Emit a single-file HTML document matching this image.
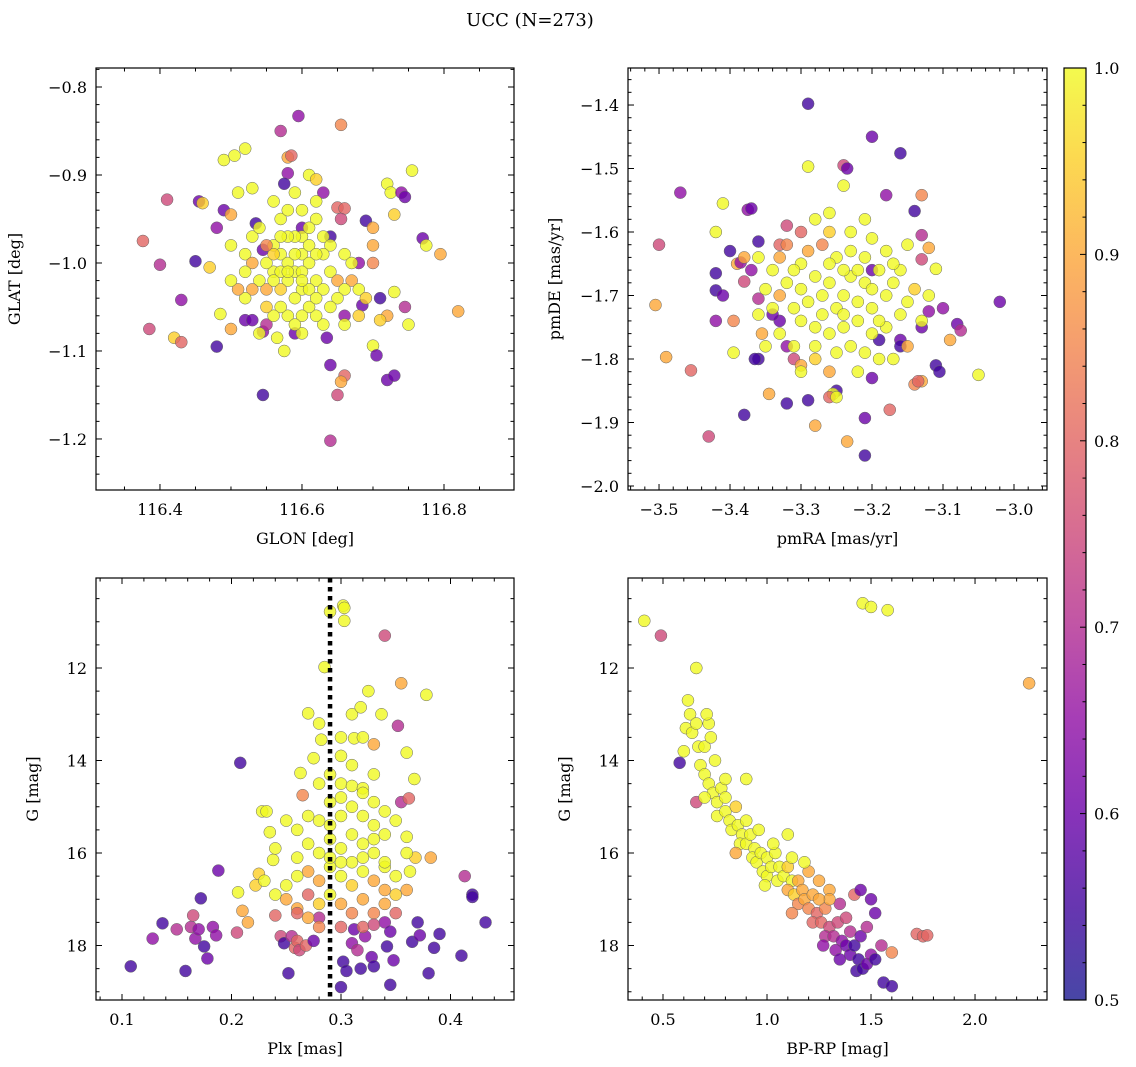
<!DOCTYPE html>
<html><head><meta charset="utf-8"><style>
html,body{margin:0;padding:0;background:#fff}
svg{display:block;font-family:"DejaVu Serif","Liberation Serif",serif}
</style></head><body>
<svg id="fig" width="1136" height="1067" viewBox="0 0 1136 1067" xmlns="http://www.w3.org/2000/svg">
<text x="530" y="26" font-size="18" text-anchor="middle">UCC (N=273)</text>
</svg>
<script>
const panel1Stars=[[116.376,-0.975,0.8],[116.41,-0.928,0.75],[116.40,-1.002,0.7],[116.385,-1.075,0.75],[116.43,-1.042,0.65],[116.42,-1.085,0.95],[116.43,-1.09,0.8],[116.45,-0.998,0.55],[116.455,-0.93,0.6],[116.46,-0.932,0.95],[116.47,-1.005,0.95],[116.48,-0.96,0.65],[116.49,-0.883,1],[116.505,-0.878,1],[116.52,-0.87,1],[116.51,-0.92,1],[116.53,-0.915,1],[116.49,-0.94,0.6],[116.50,-0.945,0.9],[116.485,-1.058,1],[116.48,-1.095,0.55],[116.50,-1.075,0.9],[116.52,-1.065,0.6],[116.53,-1.065,0.6],[116.535,-0.955,0.55],[116.545,-1.15,0.55],[116.57,-0.85,0.7],[116.58,-0.88,0.9],[116.585,-0.878,0.8],[116.595,-0.833,0.65],[116.58,-0.898,0.65],[116.575,-0.91,0.55],[116.61,-0.9,1],[116.62,-0.905,0.95],[116.63,-0.92,0.65],[116.655,-0.843,0.85],[116.65,-0.937,0.8],[116.66,-0.938,0.8],[116.655,-0.95,0.75],[116.69,-0.952,0.55],[116.70,-0.96,0.9],[116.72,-0.91,1],[116.725,-0.92,1],[116.73,-0.945,0.95],[116.74,-0.92,0.65],[116.745,-0.925,0.6],[116.755,-0.895,1],[116.77,-0.972,0.6],[116.775,-0.98,1],[116.795,-0.99,0.9],[116.82,-1.055,0.9],[116.70,-0.98,0.9],[116.70,-1.0,0.85],[116.71,-1.04,0.55],[116.72,-1.06,0.9],[116.71,-1.065,0.95],[116.70,-1.094,1],[116.705,-1.105,0.6],[116.72,-1.133,0.6],[116.73,-1.128,0.6],[116.75,-1.07,1],[116.745,-1.05,0.7],[116.73,-1.033,1],[116.685,-1.048,0.6],[116.66,-1.06,0.65],[116.66,-1.128,0.8],[116.655,-1.135,0.9],[116.65,-1.15,0.75],[116.64,-1.202,0.7],[116.64,-1.116,0.6],[116.635,-1.085,0.6],[116.59,-1.08,0.6],[116.575,-1.1,1],[116.565,-1.085,1],[116.545,-1.078,0.65],[116.55,-1.07,0.7],[116.63,-1.07,1],[116.68,-1.0,0.65],[116.67,-1.02,0.9],[116.64,-0.97,0.55],[116.60,-0.96,0.6],[116.545,-0.985,0.6],
[116.56,-0.98,1],[116.57,-0.99,1],[116.58,-1.0,1],[116.59,-1.01,1],[116.6,-0.99,1],[116.61,-1.0,1],[116.62,-1.02,1],[116.6,-1.03,1],[116.59,-1.04,1],[116.58,-1.02,1],[116.57,-1.03,0.95],[116.56,-1.01,1],[116.55,-1.0,1],[116.55,-1.03,0.9],[116.54,-1.02,1],[116.53,-1.03,0.9],[116.52,-1.04,1],[116.51,-1.03,0.9],[116.5,-1.02,1],[116.5,-0.98,1],[116.52,-0.99,1],[116.53,-0.97,1],[116.54,-0.96,1],[116.57,-0.95,1],[116.58,-0.94,1],[116.6,-0.94,1],[116.62,-0.95,1],[116.63,-0.97,1],[116.64,-0.98,1],[116.63,-0.99,1],[116.64,-1.01,1],[116.65,-1.02,0.9],[116.66,-1.03,1],[116.65,-1.04,1],[116.64,-1.05,1],[116.62,-1.06,1],[116.61,-1.05,1],[116.6,-1.06,1],[116.58,-1.06,1],[116.57,-1.05,1],[116.56,-1.06,1],[116.55,-1.05,0.95],[116.6,-0.97,1],[116.61,-0.98,1],[116.62,-0.99,1],[116.59,-0.97,1],[116.58,-0.97,1],[116.57,-0.97,1],[116.56,-0.99,0.95],[116.55,-0.98,0.85],[116.53,-1.0,0.9],[116.52,-1.01,1],[116.61,-1.03,1],[116.63,-1.03,1],[116.62,-1.04,1],[116.6,-1.08,1],[116.59,-1.07,1],[116.62,-0.93,1],[116.56,-0.93,1],[116.66,-0.99,1],[116.67,-1.0,1],[116.68,-1.03,1],[116.69,-1.04,0.95],[116.57,-1.01,1],[116.58,-1.01,1],[116.6,-1.01,1],[116.59,-0.99,1],[116.6,-1.02,1],[116.56,-1.02,1],[116.61,-0.96,1],[116.54,-1.08,1],[116.66,-1.07,1],[116.68,-1.06,0.95],[116.59,-0.92,1]];
const panel2Stars=[[-3.29,-1.398,0.55],[-3.2,-1.45,0.6],[-3.16,-1.476,0.55],[-3.47,-1.538,0.65],[-3.5,-1.62,0.75],[-3.505,-1.715,0.9],[-3.49,-1.797,0.9],[-3.455,-1.818,0.8],[-3.43,-1.922,0.75],[-3.41,-1.555,1],[-3.42,-1.6,1],[-3.4,-1.63,0.55],[-3.42,-1.665,0.55],[-3.42,-1.692,0.55],[-3.41,-1.7,0.6],[-3.42,-1.74,0.65],[-3.395,-1.74,0.85],[-3.395,-1.79,1],[-3.39,-1.65,0.9],[-3.385,-1.648,0.65],[-3.375,-1.565,0.65],[-3.37,-1.563,0.6],[-3.36,-1.615,0.55],[-3.37,-1.66,0.65],[-3.38,-1.678,0.75],[-3.38,-1.888,0.55],[-3.36,-1.8,0.55],[-3.365,-1.8,0.55],[-3.36,-1.705,0.7],[-3.355,-1.76,0.9],[-3.35,-1.78,1],[-3.345,-1.855,0.9],[-3.32,-1.87,0.55],[-3.29,-1.865,0.55],[-3.29,-1.497,1],[-3.24,-1.495,0.75],[-3.235,-1.5,0.6],[-3.24,-1.527,1],[-3.18,-1.542,0.65],[-3.13,-1.542,0.85],[-3.14,-1.567,0.55],[-3.13,-1.605,0.7],[-3.13,-1.643,0.75],[-3.12,-1.625,0.9],[-3.11,-1.658,1],[-3.12,-1.725,0.65],[-3.13,-1.75,0.6],[-3.10,-1.72,0.65],[-3.08,-1.745,0.6],[-3.075,-1.755,0.7],[-3.09,-1.77,0.9],[-3.02,-1.71,0.6],[-3.05,-1.825,1],[-3.11,-1.81,0.55],[-3.105,-1.82,0.55],[-3.13,-1.835,0.9],[-3.14,-1.84,0.85],[-3.135,-1.835,0.8],[-3.175,-1.88,0.8],[-3.21,-1.952,0.55],[-3.21,-1.893,0.6],[-3.235,-1.93,0.9],[-3.25,-1.85,0.55],[-3.255,-1.855,1],[-3.26,-1.86,0.8],[-3.28,-1.905,0.9],[-3.20,-1.83,0.6],[-3.19,-1.77,0.55],[-3.16,-1.77,0.6],[-3.16,-1.78,0.55],[-3.2,-1.66,0.6],[-3.26,-1.57,1],[-3.32,-1.59,0.75],[-3.33,-1.62,0.8],[-3.32,-1.78,0.65],[-3.33,-1.74,0.6],[-3.34,-1.73,0.6],[-3.31,-1.8,0.75],[-3.30,-1.81,0.9],
[-3.30,-1.65,1],[-3.28,-1.67,1],[-3.26,-1.68,1],[-3.24,-1.70,1],[-3.22,-1.71,1],[-3.2,-1.72,1],[-3.18,-1.70,1],[-3.17,-1.68,1],[-3.19,-1.66,1],[-3.21,-1.64,1],[-3.23,-1.63,1],[-3.25,-1.64,1],[-3.27,-1.62,0.85],[-3.29,-1.63,0.9],[-3.31,-1.66,1],[-3.32,-1.68,1],[-3.33,-1.70,0.9],[-3.31,-1.72,1],[-3.3,-1.74,1],[-3.28,-1.75,1],[-3.26,-1.76,1],[-3.24,-1.75,1],[-3.22,-1.74,1],[-3.2,-1.76,1],[-3.18,-1.75,1],[-3.16,-1.73,1],[-3.15,-1.71,1],[-3.14,-1.69,0.95],[-3.16,-1.66,1],[-3.18,-1.63,1],[-3.2,-1.61,1],[-3.23,-1.6,1],[-3.26,-1.6,0.95],[-3.28,-1.58,1],[-3.3,-1.6,0.8],[-3.32,-1.62,0.85],[-3.34,-1.66,1],[-3.35,-1.69,1],[-3.34,-1.72,1],[-3.33,-1.76,1],[-3.31,-1.78,1],[-3.28,-1.78,1],[-3.25,-1.79,1],[-3.23,-1.78,1],[-3.21,-1.79,1],[-3.19,-1.8,1],[-3.17,-1.8,1],[-3.15,-1.78,0.9],[-3.27,-1.7,1],[-3.25,-1.72,1],[-3.23,-1.67,1],[-3.21,-1.68,1],[-3.29,-1.71,1],[-3.27,-1.73,1],[-3.19,-1.74,1],[-3.22,-1.66,1],[-3.24,-1.66,1],[-3.26,-1.65,1],[-3.3,-1.69,1],[-3.28,-1.8,0.95],[-3.26,-1.82,0.9],[-3.3,-1.82,1],[-3.22,-1.82,1],[-3.2,-1.69,1],[-3.24,-1.73,1],[-3.17,-1.65,1],[-3.33,-1.64,0.9],[-3.36,-1.73,1],[-3.12,-1.7,1],[-3.13,-1.74,1],[-3.36,-1.64,1],[-3.38,-1.64,0.9],[-3.15,-1.62,1],[-3.21,-1.58,1],[-3.25,-1.86,1]];
const panel3Stars=[[0.108,18.45,0.55],[0.128,17.85,0.65],[0.137,17.52,0.55],[0.158,18.55,0.55],[0.15,17.65,0.7],[0.163,17.6,0.7],[0.165,17.35,0.75],[0.167,17.85,0.65],[0.17,17.65,0.65],[0.172,16.98,0.55],[0.175,18.02,0.55],[0.178,18.28,0.6],[0.183,17.6,0.65],[0.186,17.78,0.65],[0.188,16.38,0.6],[0.205,17.72,0.75],[0.206,16.85,1],[0.208,14.05,0.55],[0.21,17.25,0.9],[0.215,17.5,0.9],[0.222,16.7,0.95],[0.225,16.45,0.95],[0.228,15.1,1],[0.232,15.1,1],[0.235,15.55,1],[0.238,16.15,1],[0.24,17.35,0.8],[0.245,17.8,0.75],[0.248,17.95,0.55],[0.252,18.6,0.55],[0.255,17.8,0.7],[0.258,18.05,0.8],[0.26,17.9,0.8],[0.262,18.1,0.75],[0.265,14.75,0.85],[0.268,18.0,0.8],[0.275,17.9,0.6],[0.27,12.98,1],[0.28,17.4,0.7],[0.285,11.98,1],[0.29,10.78,1],[0.302,10.65,1],[0.303,10.7,1],[0.303,10.98,1],[0.3,18.9,0.55],[0.302,18.35,0.55],[0.305,18.55,0.55],[0.31,17.95,0.65],[0.312,17.65,0.6],[0.315,18.1,0.7],[0.318,18.5,0.55],[0.322,17.8,0.65],[0.328,18.25,0.6],[0.33,18.45,0.55],[0.34,11.3,0.75],[0.34,17.5,0.65],[0.342,18.02,0.55],[0.345,17.7,0.6],[0.345,18.85,0.55],[0.348,18.32,0.6],[0.352,13.25,0.7],[0.355,12.33,0.9],[0.355,14.9,0.7],[0.36,13.83,1],[0.362,14.82,0.8],[0.363,16.4,1],[0.365,17.92,0.55],[0.367,14.4,1],[0.368,16.1,0.95],[0.37,17.5,0.55],[0.372,17.78,0.6],[0.378,12.58,1],[0.38,18.6,0.55],[0.382,16.1,0.9],[0.385,18.05,0.55],[0.39,17.75,0.55],[0.41,18.22,0.55],[0.413,16.5,0.7],[0.42,16.9,0.55],[0.42,16.95,0.55],[0.432,17.5,0.55],[0.31,13.0,1],[0.312,13.52,1],[0.32,13.5,1],[0.33,13.65,0.9],[0.337,13.0,1],[0.325,12.5,1],[0.318,12.85,1],[0.28,13.2,1],[0.282,13.55,1],[0.275,13.95,1],[0.3,14.5,1],[0.31,14.55,1],[0.32,14.6,1],[0.263,14.27,1],[0.33,15.7,1],[0.36,15.65,1],[0.36,16.8,0.9],[0.34,16.3,1],[0.35,16.9,0.95],
[0.26,15.5,1],[0.27,15.8,1],[0.28,16.0,1],[0.29,15.7,1],[0.3,15.9,1],[0.31,15.6,1],[0.32,15.8,1],[0.33,16.0,1],[0.34,16.2,1],[0.33,15.4,1],[0.32,15.2,1],[0.31,15.0,1],[0.3,15.2,1],[0.29,15.4,1],[0.28,15.3,1],[0.27,15.2,1],[0.26,16.1,1],[0.27,16.4,0.9],[0.28,16.6,0.9],[0.29,16.3,1],[0.3,16.5,1],[0.31,16.7,0.95],[0.32,16.4,1],[0.33,16.6,0.9],[0.34,16.8,0.9],[0.35,16.5,1],[0.25,16.7,1],[0.25,17.0,0.9],[0.26,17.2,0.9],[0.27,17.4,0.9],[0.28,17.1,0.95],[0.29,16.9,1],[0.3,17.1,0.9],[0.31,17.3,0.85],[0.32,17.0,0.9],[0.33,17.3,0.85],[0.34,17.1,0.9],[0.31,16.2,1],[0.3,14.8,1],[0.29,14.9,1],[0.32,14.7,1],[0.33,14.9,1],[0.34,15.1,1],[0.35,15.3,1],[0.24,15.9,1],[0.25,15.3,1],[0.36,16.0,1],[0.23,16.6,1],[0.24,16.9,1],[0.28,17.6,0.85],[0.3,17.6,0.8],[0.32,17.6,0.8],[0.27,16.9,0.8],[0.26,16.5,1],[0.3,16.2,1],[0.29,16.1,1],[0.32,16.1,1],[0.34,15.6,1],[0.3,13.5,1],[0.29,14.3,1],[0.31,14.1,1],[0.3,13.9,1],[0.33,14.3,1],[0.28,14.5,1],[0.26,17.3,0.8],[0.33,17.55,0.75],[0.35,17.3,0.8]];
const panel4Stars=[[0.41,10.98,1],[0.49,11.3,0.75],[1.46,10.6,1],[1.5,10.68,1],[1.58,10.75,1],[2.26,12.33,0.9],[0.58,14.05,0.55],[0.66,12.0,1],[1.72,17.75,0.8],[1.75,17.8,0.8],[1.77,17.78,0.8],[1.6,18.15,0.85],[1.56,18.8,0.55],[1.6,18.88,0.55],
[0.62,12.7,1],[0.63,13.0,1],[0.61,13.3,1],[0.64,13.4,1],[0.66,13.2,1],[0.6,13.8,1],[0.67,13.7,1],[0.7,13.7,1],[0.72,13.2,1],[0.73,13.5,1],[0.68,14.1,1],[0.7,14.3,1],[0.72,14.5,1],[0.74,14.7,1],[0.66,14.9,0.75],[0.7,14.8,1],[0.76,14.9,1],[0.78,14.6,1],[0.8,14.8,1],[0.76,15.2,1],[0.8,15.1,1],[0.82,15.3,1],[0.85,15.0,0.95],[0.83,15.5,1],[0.86,15.4,1],[0.88,15.6,1],[0.9,15.3,1],[0.87,15.8,1],[0.9,15.8,1],[0.92,15.6,1],[0.94,15.9,1],[0.96,15.5,1],[0.9,14.4,1],[0.93,16.1,1],[0.95,16.2,1],[0.97,16.0,1],[1.0,16.1,1],[0.98,16.4,1],[1.0,16.5,1],[1.02,16.3,1],[1.04,16.0,1],[1.06,16.3,1],[1.05,16.6,1],[1.08,16.5,1],[1.1,16.3,0.95],[1.12,16.6,1],[1.1,16.8,0.9],[1.13,16.9,0.95],[1.15,16.6,0.9],[1.17,16.8,0.9],[1.15,17.1,0.85],[1.18,17.0,0.9],[1.2,17.2,0.85],[1.22,16.9,0.9],[1.2,16.4,0.9],[1.24,17.3,0.8],[1.22,17.5,0.8],[1.26,17.5,0.8],[1.28,17.2,0.85],[1.3,17.6,0.75],[1.28,17.8,0.7],[1.32,17.8,0.7],[1.34,17.5,0.75],[1.36,17.9,0.65],[1.33,18.1,0.65],[1.38,18.0,0.6],[1.4,17.7,0.7],[1.4,18.2,0.6],[1.42,18.0,0.55],[1.44,18.3,0.55],[1.45,17.8,0.6],[1.43,18.55,0.55],[1.46,18.5,0.55],[1.48,18.4,0.6],[1.5,18.2,0.65],[1.38,17.4,0.75],[1.42,16.9,0.8],[1.45,16.8,0.6],[1.5,17.0,0.6],[1.52,17.3,0.6],[1.48,17.6,0.7],[1.35,17.1,0.7],[1.3,16.8,0.9],[1.25,16.6,0.9],[1.18,16.2,1],[1.1,15.6,1],[1.03,15.8,1],[1.12,16.1,1],[0.85,16.0,0.9],[0.99,16.7,1],[1.12,17.3,0.85],[1.27,18.0,0.65],[1.35,18.3,0.6],[1.52,18.3,0.55],[1.55,18.0,0.7],[1.3,17.0,0.9],[1.25,17.0,0.9],[0.8,14.4,1],[0.75,14.0,1],[0.71,13.0,1]];
const plxMedian=0.29;
const colorbarTicks=[0.5,0.6,0.7,0.8,0.9,1.0];

const NS="http://www.w3.org/2000/svg";
const svg=document.getElementById('fig');
function mk(tag,attrs,parent){const e=document.createElementNS(NS,tag);for(const k in attrs)e.setAttribute(k,attrs[k]);(parent||svg).appendChild(e);return e;}
const stops=['#1a1890','#41049d','#6a00a8','#8f0da4','#b12a90','#cc4778','#e16462','#f2844b','#fca636','#fcce25','#f0f921'];
function hx(c){return [1,3,5].map(i=>parseInt(c.substr(i,2),16));}
function plasma(p){let t=Math.max(0,Math.min(1,(p-0.5)/0.5))*10;const i=Math.min(9,Math.floor(t)),f=t-i;const a=hx(stops[i]),b=hx(stops[i+1]);return 'rgb('+a.map((v,k)=>Math.round(v+(b[k]-v)*f)).join(',')+')';}
function fmt(v,d){return v.toFixed(d).replace('-','\u2212');}

function panel(o){
  const g=mk('g',{});
  
  
  const sx=v=>o.x0+(v-o.xd[0])/(o.xd[1]-o.xd[0])*(o.x1-o.x0);
  const sy=v=>o.inv? o.y0+(v-o.yd[0])/(o.yd[1]-o.yd[0])*(o.y1-o.y0) : o.y1-(v-o.yd[0])/(o.yd[1]-o.yd[0])*(o.y1-o.y0);
  const pts=mk('g',{},g);
  
  
  o.data.forEach(d=>{const c=mk('circle',{cx:sx(d[0]),cy:sy(d[1]),r:6,fill:plasma(d[2]),'fill-opacity':0.8,stroke:'#666','stroke-width':0.5},pts);
    
    });
  if(o.vline!==undefined){const l=mk('line',{x1:sx(o.vline),x2:sx(o.vline),y1:o.y0,y2:o.y1,stroke:'#000','stroke-width':4.5,'stroke-dasharray':'4.5,4.5'},g);
    
    }
  const fr=mk('rect',{x:o.x0,y:o.y0,width:o.x1-o.x0,height:o.y1-o.y0,fill:'none',stroke:'#000','stroke-width':1.2},g);
  
  
  const eps=1e-9;
  for(let v=Math.ceil(o.xd[0]/o.xmin-eps)*o.xmin;v<=o.xd[1]+eps;v+=o.xmin){
    const X=sx(v);const major=Math.abs(v/o.xmaj-Math.round(v/o.xmaj))<1e-6;const L=major?6:3.5;
    mk('line',{x1:X,x2:X,y1:o.y1,y2:o.y1-L,stroke:'#000','stroke-width':1},g);
    mk('line',{x1:X,x2:X,y1:o.y0,y2:o.y0+L,stroke:'#000','stroke-width':1},g);
    if(major){const t=mk('text',{x:X,y:o.y1+25,'font-size':16,'text-anchor':'middle'},g);t.textContent=fmt(Math.round(v/o.xmaj)*o.xmaj,o.xdp);
      
      }
  }
  for(let v=Math.ceil(o.yd[0]/o.ymin-eps)*o.ymin;v<=o.yd[1]+eps;v+=o.ymin){
    const Y=sy(v);const major=Math.abs(v/o.ymaj-Math.round(v/o.ymaj))<1e-6;const L=major?6:3.5;
    mk('line',{x1:o.x0,x2:o.x0+L,y1:Y,y2:Y,stroke:'#000','stroke-width':1},g);
    mk('line',{x1:o.x1,x2:o.x1-L,y1:Y,y2:Y,stroke:'#000','stroke-width':1},g);
    if(major){const t=mk('text',{x:o.x0-9,y:Y+6,'font-size':16,'text-anchor':'end'},g);t.textContent=fmt(Math.round(v/o.ymaj)*o.ymaj,o.ydp);
      
      }
  }
  const xl=mk('text',{x:(o.x0+o.x1)/2,y:o.y1+54,'font-size':16,'text-anchor':'middle'},g);xl.textContent=o.xlab;
  
  
  const yx=o.x0-o.ylo,yy=(o.y0+o.y1)/2;
  const yl=mk('text',{x:yx,y:yy,'font-size':16,'text-anchor':'middle',transform:'rotate(-90 '+yx+' '+yy+')'},g);yl.textContent=o.ylab;
  
  
}
panel({name:'glon-glat-panel',x0:96,x1:514,y0:68,y1:490,xd:[116.3099,116.8986],yd:[-1.258,-0.7784],xmaj:0.2,xmin:0.05,ymaj:0.1,ymin:0.02,xdp:1,ydp:1,data:panel1Stars,xlab:'GLON [deg]',ylab:'GLAT [deg]',ylo:76});
panel({name:'pm-panel',x0:628,x1:1047,y0:68,y1:490,xd:[-3.5437,-2.9535],yd:[-2.0063,-1.3417],xmaj:0.1,xmin:0.02,ymaj:0.1,ymin:0.02,xdp:1,ydp:1,data:panel2Stars,xlab:'pmRA [mas/yr]',ylab:'pmDE [mas/yr]',ylo:68});
panel({name:'plx-g-panel',x0:96,x1:514,y0:578,y1:1000,xd:[0.07626,0.458],yd:[10.054,19.178],inv:true,xmaj:0.1,xmin:0.02,ymaj:2,ymin:0.5,xdp:1,ydp:0,data:panel3Stars,vline:plxMedian,xlab:'Plx [mas]',ylab:'G [mag]',ylo:58});
panel({name:'cmd-panel',x0:628,x1:1047,y0:578,y1:1000,xd:[0.3317,2.346],yd:[10.054,19.178],inv:true,xmaj:0.5,xmin:0.1,ymaj:2,ymin:0.5,xdp:1,ydp:0,data:panel4Stars,xlab:'BP-RP [mag]',ylab:'G [mag]',ylo:58});

const cb=mk('g',{});


const defs=mk('defs',{},cb);
const lg=mk('linearGradient',{id:'cbg',x1:0,y1:1,x2:0,y2:0},defs);
stops.forEach((c,i)=>mk('stop',{offset:i/10,'stop-color':c},lg));
mk('rect',{x:1064,y:68,width:22,height:932,fill:'url(#cbg)','fill-opacity':0.8},cb);
mk('rect',{x:1064,y:68,width:22,height:932,fill:'none',stroke:'#000','stroke-width':1.2},cb);
const cy=v=>1000-(v-0.5)/0.5*932;
for(let v=0.5;v<=1.0001;v+=0.02){const Y=cy(v);const major=Math.abs(v*10-Math.round(v*10))<1e-6;
  mk('line',{x1:1086,x2:1086-(major?6:3.5),y1:Y,y2:Y,stroke:'#000','stroke-width':1},cb);}
colorbarTicks.forEach(v=>{const t=mk('text',{x:1094,y:cy(v)+6,'font-size':16},cb);t.textContent=v.toFixed(1);
  
  });
</script>
</body></html>
